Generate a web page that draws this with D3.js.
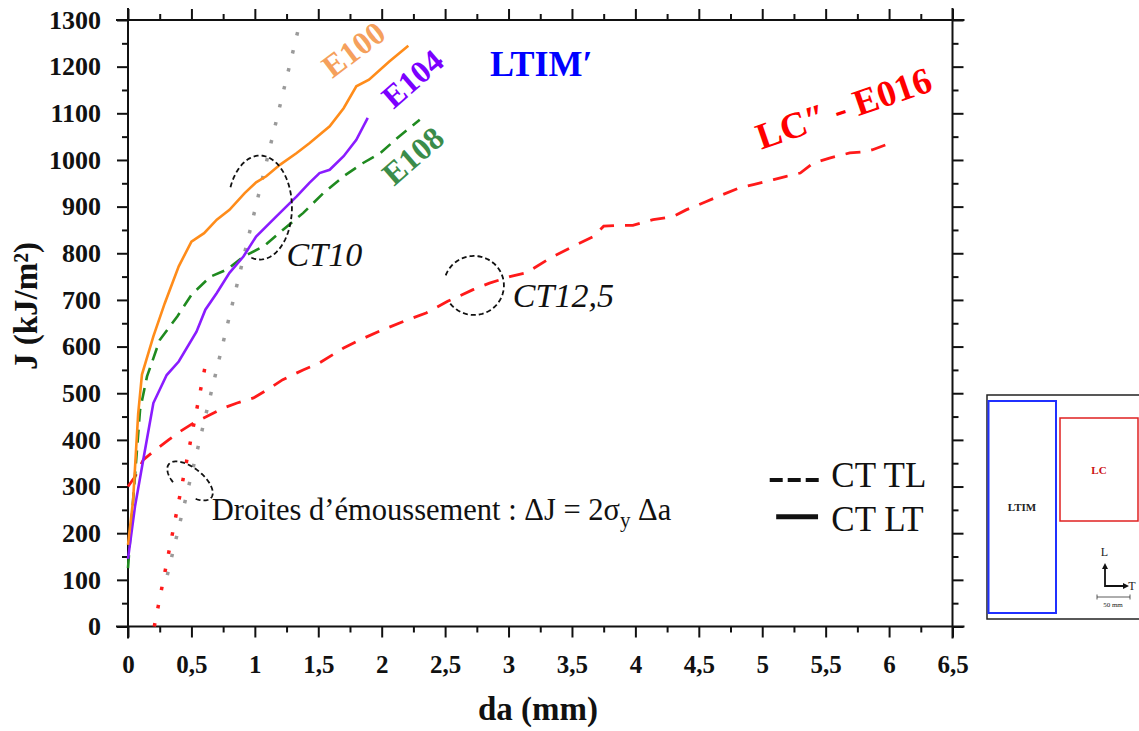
<!DOCTYPE html>
<html><head><meta charset="utf-8">
<script src="https://cdn.jsdelivr.net/npm/d3@7"></script>
<style>body{margin:0;background:#fff}svg{display:block}</style>
</head><body><svg id="c" width="1139" height="731"></svg>
<script>
// ---------- data (da in mm, J in kJ/m²) ----------
const e100 = [[0,175],[0.04,270],[0.08,455],[0.11,540],[0.2,622],[0.29,693],[0.4,772],[0.5,825],[0.6,843],[0.7,872],[0.8,893],[0.92,929],[1.01,952],[1.09,965],[1.2,990],[1.33,1015],[1.43,1036],[1.59,1072],[1.7,1111],[1.8,1158],[1.9,1172],[2.06,1211],[2.21,1245]];
const e104 = [[0,145],[0.055,257],[0.12,357],[0.2,479],[0.305,539],[0.4,568],[0.54,632],[0.61,679],[0.7,715],[0.8,758],[0.91,793],[1.01,836],[1.17,879],[1.33,922],[1.43,951],[1.51,972],[1.59,979],[1.7,1008],[1.8,1043],[1.89,1090]];
const e108 = [[0,125],[0.03,235],[0.095,464],[0.15,536],[0.25,614],[0.39,665],[0.5,711],[0.65,750],[0.78,765],[0.91,793],[1.07,815],[1.22,850],[1.38,886],[1.54,929],[1.7,965],[1.85,993],[1.99,1015],[2.14,1051],[2.3,1086]];
const e016 = [[0,300],[0.055,321],[0.12,357],[0.2,375],[0.32,400],[0.41,418],[0.515,436],[0.62,450],[0.75,468],[0.86,479],[0.99,490],[1.12,511],[1.22,529],[1.38,550],[1.51,565],[1.7,597],[1.85,617],[2.0,635],[2.2,657],[2.35,672],[2.52,697],[2.72,722],[2.85,736],[3.01,750],[3.14,758],[3.33,790],[3.51,815],[3.67,836],[3.75,858],[3.88,860],[3.98,860],[4.14,872],[4.3,879],[4.4,893],[4.56,911],[4.69,926],[4.82,940],[4.93,947],[5.09,958],[5.19,965],[5.3,972],[5.4,993],[5.53,1004],[5.69,1015],[5.82,1018],[5.87,1022],[6.0,1035]];
const bluntLTIM = [[0.31,110],[1.36,1300]];
const bluntLC = [[0.207,0],[0.61,560]];
const xTicks = [0,0.5,1,1.5,2,2.5,3,3.5,4,4.5,5,5.5,6,6.5];
const xMinor = [0.25,0.75,1.25,1.75,2.25,2.75,3.25,3.75,4.25,4.75,5.25,5.75,6.25];
const yTicks = [0,100,200,300,400,500,600,700,800,900,1000,1100,1200,1300];
const yMinor = [50,150,250,350,450,550,650,750,850,950,1050,1150,1250];
const xTitle = "da (mm)";
const yTitle = "J (kJ/m²)";

// ---------- setup ----------
const svg = d3.select("#c");
const FONT = "'Liberation Serif', 'Times New Roman', serif";
const x = d3.scaleLinear().domain([0,6.5]).range([128,952.5]);
const y = d3.scaleLinear().domain([0,1300]).range([626.5,20]);
const X0 = x(0), X1 = x(6.5), Y0 = y(0), Y1 = y(1300);
const ext = 12;

// axes
function styleAxis(g){
  g.select(".domain").remove();
  g.selectAll(".tick line").attr("stroke","#111").attr("stroke-width",2);
}
const fmtX = d => String(d).replace(".", ",");
const fmtY = d => String(d);
svg.append("g").attr("transform",`translate(0,${Y0})`)
  .call(d3.axisBottom(x).tickValues(xTicks).tickSize(11).tickPadding(18).tickFormat(fmtX))
  .call(styleAxis)
  .call(g=>g.selectAll("text").attr("font-family",FONT).attr("font-size",25).attr("font-weight","bold").attr("fill","#111"));
svg.append("g").attr("transform",`translate(0,${Y0})`)
  .call(d3.axisBottom(x).tickValues(xMinor).tickSize(6).tickFormat("")).call(styleAxis);
svg.append("g").attr("transform",`translate(0,${Y1})`)
  .call(d3.axisTop(x).tickValues(xTicks).tickSize(11).tickFormat("")).call(styleAxis);
svg.append("g").attr("transform",`translate(0,${Y1})`)
  .call(d3.axisTop(x).tickValues(xMinor).tickSize(6).tickFormat("")).call(styleAxis);
svg.append("g").attr("transform",`translate(${X0},0)`)
  .call(d3.axisLeft(y).tickValues(yTicks).tickSize(11).tickPadding(16).tickFormat(fmtY))
  .call(styleAxis)
  .call(g=>g.selectAll("text").attr("font-family",FONT).attr("font-size",26).attr("font-weight","bold").attr("fill","#111"));
svg.append("g").attr("transform",`translate(${X0},0)`)
  .call(d3.axisLeft(y).tickValues(yMinor).tickSize(6).tickFormat("")).call(styleAxis);
svg.append("g").attr("transform",`translate(${X1},0)`)
  .call(d3.axisRight(y).tickValues(yTicks).tickSize(11).tickFormat("")).call(styleAxis);
svg.append("g").attr("transform",`translate(${X1},0)`)
  .call(d3.axisRight(y).tickValues(yMinor).tickSize(6).tickFormat("")).call(styleAxis);

// frame lines (crossing at corners)
const frame = svg.append("g").attr("stroke","#111").attr("stroke-width",2);
frame.append("line").attr("x1",X0-ext).attr("x2",X1+ext).attr("y1",Y0).attr("y2",Y0);
frame.append("line").attr("x1",X0-ext).attr("x2",X1+ext).attr("y1",Y1).attr("y2",Y1);
frame.append("line").attr("x1",X0).attr("x2",X0).attr("y1",Y1-ext).attr("y2",Y0+ext);
frame.append("line").attr("x1",X1).attr("x2",X1).attr("y1",Y1-ext).attr("y2",Y0+ext);

// axis titles
svg.append("text").attr("x",538).attr("y",720).attr("text-anchor","middle")
  .attr("font-family",FONT).attr("font-size",33).attr("font-weight","bold").attr("fill","#111").text(xTitle);
svg.append("text").attr("transform",`translate(37,306) rotate(-90)`).attr("text-anchor","middle")
  .attr("font-family",FONT).attr("font-size",33).attr("font-weight","bold").attr("fill","#111").text(yTitle);

// ---------- curves ----------
const line = d3.line().x(d=>x(d[0])).y(d=>y(d[1]));
const plot = svg.append("g").attr("fill","none");
plot.append("path").datum(bluntLTIM).attr("d",line).attr("stroke","#9a9a9a").attr("stroke-width",3.5).attr("stroke-dasharray","3.5,15");
plot.append("path").datum(bluntLC).attr("d",line).attr("stroke","#ff1a1a").attr("stroke-width",3.5).attr("stroke-dasharray","3.5,15");
plot.append("path").datum(e016).attr("d",line).attr("stroke","#ff1a1a").attr("stroke-width",2.8).attr("stroke-dasharray","15,11");
plot.append("path").datum(e108).attr("d",line).attr("stroke","#1f8a1f").attr("stroke-width",2.6).attr("stroke-dasharray","13,8");
plot.append("path").datum(e104).attr("d",line).attr("stroke","#8a1cff").attr("stroke-width",2.6);
plot.append("path").datum(e100).attr("d",line).attr("stroke","#ff8c1a").attr("stroke-width",2.6);

// ---------- annotations ----------
function ellipseArc(rx, ry, a0, a1){
  const pts = d3.range(a0, a1+0.1, 3).map(a=>{const t=a*Math.PI/180; return [rx*Math.cos(t), ry*Math.sin(t)];});
  return d3.line()(pts);
}
const ellipses = [
  {cx:1.04, cy:898, rx:32, ry:52, rot:0, a0:203, a1:468},
  {cx:2.727, cy:731, rx:30, ry:29.5, rot:0, a0:200, a1:505},
  {cx:0.489, cy:312, rx:27, ry:13, rot:38, a0:118, a1:415}
];
ellipses.forEach(e=>{
  svg.append("path").attr("transform",`translate(${x(e.cx)},${y(e.cy)}) rotate(${e.rot})`)
    .attr("d",ellipseArc(e.rx,e.ry,e.a0,e.a1)).attr("fill","none").attr("stroke","#111")
    .attr("stroke-width",1.8).attr("stroke-dasharray","5,3");
});

const labels = [
  {t:"E100", x:1.777, y:1237, rot:-37, c:"#f5a05c", s:32},
  {t:"E104", x:2.242, y:1174, rot:-41, c:"#7b00ff", s:32},
  {t:"E108", x:2.246, y:1009, rot:-41, c:"#3b8c4a", s:32},
  {t:"LC″ - E016", x:5.642, y:1111, rot:-19, c:"#ff0000", s:37}
];
labels.forEach(l=>{
  svg.append("text").attr("transform",`translate(${x(l.x)},${y(l.y)}) rotate(${l.rot})`)
    .attr("text-anchor","middle").attr("dominant-baseline","central")
    .attr("font-family",FONT).attr("font-size",l.s).attr("font-weight","bold").attr("fill",l.c).text(l.t);
});
svg.append("text").attr("x",x(2.853)).attr("y",y(1179)).attr("font-family",FONT).attr("font-size",36)
  .attr("font-weight","bold").attr("fill","#0000ff").text("LTIM′");

svg.append("text").attr("x",x(1.25)).attr("y",y(772)).attr("font-family",FONT).attr("font-size",34)
  .attr("font-style","italic").attr("fill","#111").text("CT10");
svg.append("text").attr("x",x(3.034)).attr("y",y(685)).attr("font-family",FONT).attr("font-size",34)
  .attr("font-style","italic").attr("fill","#111").text("CT12,5");

const dr = svg.append("text").attr("x",x(0.66)).attr("y",y(228)).attr("font-family",FONT).attr("font-size",30.5).attr("fill","#111");
dr.append("tspan").text("Droites d’émoussement : ΔJ = 2σ");
dr.append("tspan").attr("font-size",21).attr("dy",7).text("y");
dr.append("tspan").attr("dy",-7).text(" Δa");

// legend
const lg = svg.append("g");
lg.append("line").attr("x1",x(5.059)).attr("x2",x(5.453)).attr("y1",y(314)).attr("y2",y(314))
  .attr("stroke","#111").attr("stroke-width",4).attr("stroke-dasharray","13,5");
lg.append("line").attr("x1",x(5.11)).attr("x2",x(5.44)).attr("y1",y(235)).attr("y2",y(235))
  .attr("stroke","#111").attr("stroke-width",5);
lg.append("text").attr("x",x(5.545)).attr("y",y(300)).attr("font-family",FONT).attr("font-size",35).attr("fill","#111").text("CT TL");
lg.append("text").attr("x",x(5.545)).attr("y",y(205)).attr("font-family",FONT).attr("font-size",35).attr("fill","#111").text("CT LT");

// ---------- inset schematic ----------
const ins = svg.append("g");
ins.append("rect").attr("x",987).attr("y",395).attr("width",170).attr("height",224).attr("fill","#fff").attr("stroke","#222").attr("stroke-width",1.5);
ins.append("rect").attr("x",988.5).attr("y",401).attr("width",67.5).attr("height",212).attr("fill","none").attr("stroke","#2030ff").attr("stroke-width",2);
ins.append("rect").attr("x",1060).attr("y",418).attr("width",78).attr("height",103).attr("fill","none").attr("stroke","#e02020").attr("stroke-width",1.5);
ins.append("text").attr("x",1022).attr("y",511).attr("text-anchor","middle").attr("font-family",FONT).attr("font-size",11).attr("font-weight","bold").attr("fill","#222").text("LTIM");
ins.append("text").attr("x",1099).attr("y",474).attr("text-anchor","middle").attr("font-family",FONT).attr("font-size",11).attr("font-weight","bold").attr("fill","#cc1010").text("LC");
ins.append("path").attr("d","M1105,568 L1105,586 L1124,586").attr("fill","none").attr("stroke","#111").attr("stroke-width",1.8);
ins.append("path").attr("d","M1102,569 L1105,563 L1108,569 Z M1123,583 L1129,586 L1123,589 Z").attr("fill","#111");
ins.append("text").attr("x",1104.5).attr("y",556).attr("text-anchor","middle").attr("font-family",FONT).attr("font-size",12).attr("fill","#222").text("L");
ins.append("text").attr("x",1132).attr("y",590).attr("text-anchor","middle").attr("font-family",FONT).attr("font-size",12).attr("fill","#222").text("T");
ins.append("path").attr("d","M1097,597 L1130,597 M1097,594.5 L1097,599.5 M1130,594.5 L1130,599.5").attr("stroke","#333").attr("stroke-width",0.8);
ins.append("text").attr("x",1113).attr("y",607).attr("text-anchor","middle").attr("font-family",FONT).attr("font-size",7).attr("fill","#222").text("50 mm");
</script></body></html>
